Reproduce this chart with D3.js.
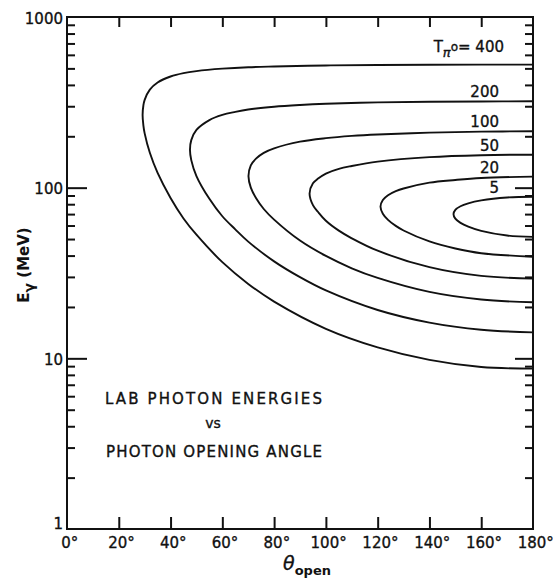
<!DOCTYPE html>
<html>
<head>
<meta charset="utf-8">
<script src="https://cdn.jsdelivr.net/npm/d3@7"></script>
<style>
  body { margin: 0; background: #fff; }
  text { font-family: "DejaVu Sans", sans-serif; fill: #111; stroke: #111; stroke-width: 0.35px; }
</style>
</head>
<body>
<div id="chart"></div>
<script>
// pion kinetic energies (MeV), one contour each
const tpi = [400, 200, 100, 50, 20, 5];

// rows: [opening angle (deg), upper E (MeV), lower E (MeV)]
const curve400 = [[29.2, 267, 267], [29.5, 303, 232], [30, 327, 208], [32, 375, 160], [35, 413, 122],
  [40, 448, 87], [45, 469, 66], [50, 482, 53], [60, 498, 36.6], [70, 508, 27.3], [80, 513, 21.5],
  [100, 520, 14.9], [120, 523, 11.6], [140, 525, 9.8], [160, 526, 8.9], [180, 526, 8.7]];
const curve200 = [[47.5, 167, 167], [48, 190, 145], [50, 218, 117], [55, 249, 86], [60, 267, 68],
  [65, 278, 57], [70, 287, 48.3], [80, 298, 37], [90, 305, 29.9], [100, 310, 25],
  [120, 316, 19.2], [140, 319, 16.2], [160, 320, 14.7], [180, 321, 14.2]];
const curve100 = [[70.1, 117, 117], [71, 135, 100], [73, 148, 87], [76, 160, 75], [80, 170, 65],
  [90, 186, 49], [100, 195, 39.8], [110, 201, 33.7], [120, 205, 29.6], [140, 210, 24.5],
  [160, 213, 22.1], [180, 214, 21.3]];
const curve50 = [[93.7, 92.5, 92.5], [95, 106, 79], [97, 113, 72], [100, 121, 64], [105, 129, 56],
  [110, 134, 50.5], [120, 142, 42.7], [140, 151, 34.2], [160, 155, 30.4], [180, 156, 29.3]];
const curve20 = [[121.1, 77.5, 77.5], [122, 84.6, 70.4], [124, 90.2, 64.8], [127, 95.3, 59.7],
  [130, 98.9, 56.1], [140, 107, 48.4], [150, 111, 44], [160, 114, 41.3], [180, 116, 39.4]];
const curve5 = [[149.3, 70, 70], [150, 74.1, 65.9], [152, 77.8, 62.2], [155, 80.9, 59.1],
  [160, 84.2, 55.8], [170, 87.6, 52.4], [180, 88.5, 51.5]];

const curves = [curve400, curve200, curve100, curve50, curve20, curve5];

const xTicks = [0, 20, 40, 60, 80, 100, 120, 140, 160, 180];
const yLabels = [1, 10, 100, 1000];
const yMajor = [10, 100];
const yMinor = [];
[1, 10, 100].forEach(dec => { for (let k = 2; k <= 9; k++) yMinor.push(k * dec); });

const W = 553, H = 579;
const x = d3.scaleLinear().domain([0, 180]).range([67, 533]);
const y = d3.scaleLog().domain([1, 1000]).range([529, 17]);

const svg = d3.select("#chart").append("svg")
  .attr("width", W).attr("height", H);

// ticks (all pointing inward)
function ticks(axis, tr) {
  const g = svg.append("g").attr("transform", tr).call(axis);
  g.select(".domain").remove();
  g.selectAll("line").attr("stroke", "#111").attr("stroke-width", 2);
  return g;
}
ticks(d3.axisLeft(y).tickValues(yMinor).tickSize(-8).tickFormat(""), `translate(${x(0)},0)`);
ticks(d3.axisLeft(y).tickValues(yMajor).tickSize(-20).tickFormat(""), `translate(${x(0)},0)`);
ticks(d3.axisRight(y).tickValues(yMinor).tickSize(-8).tickFormat(""), `translate(${x(180)},0)`);
ticks(d3.axisRight(y).tickValues(yMajor).tickSize(-18).tickFormat(""), `translate(${x(180)},0)`);
ticks(d3.axisTop(x).tickValues(xTicks.slice(1, -1)).tickSize(-10).tickFormat(""), `translate(0,${y(1000)})`);
ticks(d3.axisBottom(x).tickValues(xTicks.slice(1, -1)).tickSize(-12).tickFormat(""), `translate(0,${y(1)})`);

// tick labels
const yl = ticks(d3.axisLeft(y).tickValues(yLabels).tickSize(0).tickPadding(4).tickFormat(d3.format("d")),
  `translate(${x(0)},0)`);
yl.selectAll("text").style("font-size", "15px").style("font-family", "DejaVu Sans").attr("fill", "#111")
  .attr("dy", d => d === 1 ? "-0.05em" : "0.4em");
const xl = ticks(d3.axisBottom(x).tickValues(xTicks).tickSize(0).tickPadding(8).tickFormat(d => d + "°"),
  `translate(0,${y(1)})`);
xl.selectAll("text").style("font-size", "15px").style("font-family", "DejaVu Sans").attr("fill", "#111")
  .attr("dx", "0.15em");

// frame
svg.append("rect")
  .attr("x", x(0)).attr("y", y(1000))
  .attr("width", x(180) - x(0)).attr("height", y(1) - y(1000))
  .attr("fill", "none").attr("stroke", "#111").attr("stroke-width", 2);

// contours: upper branch from 180 back to the tip, then lower branch out to 180
const line = d3.line()
  .x(d => x(d[0])).y(d => y(d[1]))
  .curve(d3.curveCatmullRom.alpha(0.5));

curves.forEach(c => {
  const pts = c.slice().reverse().map(r => [r[0], r[1]])
    .concat(c.slice(1).map(r => [r[0], r[2]]));
  svg.append("path").attr("d", line(pts))
    .attr("fill", "none").attr("stroke", "#111").attr("stroke-width", 1.9);
});

// curve labels
curves.forEach((c, i) => {
  const top = y(c[c.length - 1][1]);
  const t = svg.append("text")
    .attr("x", 499).attr("y", top - (i === 0 ? 13 : 4))
    .attr("text-anchor", "end").style("font-size", "15px");
  if (i === 0) {
    t.attr("x", 504);
    t.append("tspan").text("T");
    t.append("tspan").attr("dy", 5).style("font-size", "13px").style("font-style", "italic").text("π");
    t.append("tspan").attr("dy", -6).style("font-size", "12px").text("o");
    t.append("tspan").attr("dy", 1).text("= " + tpi[i]);
  } else {
    t.text(tpi[i]);
  }
});

// axis titles
const ey = svg.append("text")
  .attr("transform", `translate(29,265) rotate(-90)`)
  .attr("text-anchor", "middle").style("font-size", "15px").style("font-weight", "bold")
  .style("stroke-width", "0");
ey.append("tspan").text("E");
ey.append("tspan").attr("dy", 5).style("font-size", "14px").text("γ");
ey.append("tspan").attr("dy", -5).text("  (MeV)");

const th = svg.append("text")
  .attr("x", 307).attr("y", 570)
  .attr("text-anchor", "middle").style("font-size", "19px");
th.append("tspan").style("font-style", "italic").text("θ");
th.append("tspan").attr("dy", 5).style("font-size", "13px").style("font-weight", "bold")
  .style("stroke-width", "0").text("open");

// caption
svg.append("text").attr("x", 105).attr("y", 404)
  .attr("textLength", 217).attr("lengthAdjust", "spacing")
  .style("font-size", "15px").text("LAB PHOTON ENERGIES");
svg.append("text").attr("x", 213).attr("y", 428)
  .attr("text-anchor", "middle").style("font-size", "14px").text("vs");
svg.append("text").attr("x", 106).attr("y", 457)
  .attr("textLength", 216).attr("lengthAdjust", "spacing")
  .style("font-size", "15px").text("PHOTON OPENING ANGLE");
</script>
</body>
</html>
